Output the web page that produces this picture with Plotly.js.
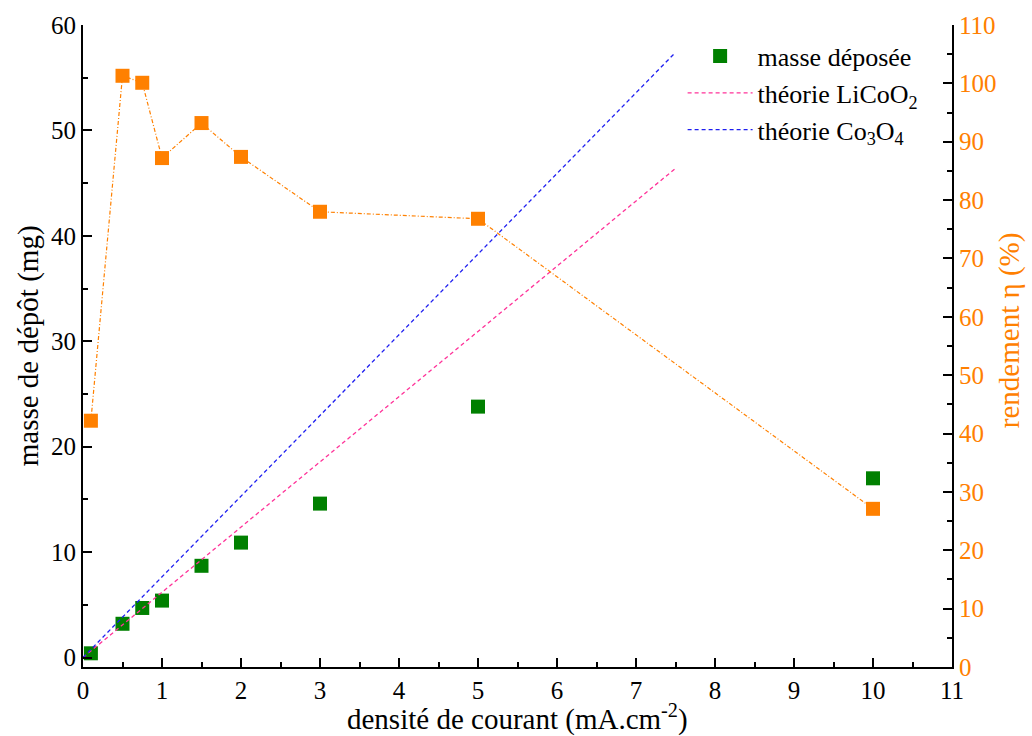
<!DOCTYPE html>
<html>
<head>
<meta charset="utf-8">
<script src="https://cdn.plot.ly/plotly-3.0.1.min.js"></script>
<style>
html,body{margin:0;padding:0;background:#fff;}
#chart{width:1032px;height:736px;}
</style>
</head>
<body>
<div id="chart"></div>
<script>
// Current density (mA.cm-2)
const currentDensity = [0.1, 0.5, 0.75, 1, 1.5, 2, 3, 5, 10];
// Deposited mass (mg)
const massDeposited = [0.4, 3.2, 4.7, 5.4, 8.7, 10.9, 14.6, 23.8, 17.0];
// Yield (%)
const yieldPct = [42.2, 101.3, 100.1, 87.2, 93.2, 87.4, 78.0, 76.8, 27.1];
// Theoretical lines
const theoryX = [0, 7.5];
const theoryLiCoO2 = [0, 46.4];
const theoryCo3O4 = [0, 57.4];
// Titles
const xTitle = "densité de courant (mA.cm<sup>-2</sup>)";
const yTitle = "masse de dépôt (mg)";
const y2Title = "rendement η (%)";

const FONT = "Liberation Serif";
const ORANGE = "#FF8000";

const traces = [
  {
    x: currentDensity, y: massDeposited, type: "scatter", mode: "markers",
    name: "masse déposée", legendgroup: "a",
    marker: {symbol: "square", size: 14, color: "#008000", line: {width: 0}},
    xaxis: "x", yaxis: "y"
  },
  {
    x: theoryX, y: theoryLiCoO2, type: "scatter", mode: "lines",
    name: "théorie LiCoO<sub>2</sub>", legendgroup: "b",
    line: {color: "#FF3399", width: 1.3, dash: "4px,3px"},
    xaxis: "x", yaxis: "y"
  },
  {
    x: theoryX, y: theoryCo3O4, type: "scatter", mode: "lines",
    name: "théorie Co<sub>3</sub>O<sub>4</sub>", legendgroup: "c",
    line: {color: "#1E1EF0", width: 1.3, dash: "4px,3px"},
    xaxis: "x", yaxis: "y"
  },
  {
    x: currentDensity, y: yieldPct, type: "scatter", mode: "lines+markers",
    name: "rendement",
    showlegend: false,
    line: {color: ORANGE, width: 1.2, dash: "4px,2px,1px,2px"},
    marker: {symbol: "square", size: 14, color: ORANGE, line: {width: 0}},
    xaxis: "x", yaxis: "y2"
  }
];

const layout = {
  width: 1032, height: 736,
  margin: {l: 83, r: 80, t: 25, b: 69},
  paper_bgcolor: "#fff", plot_bgcolor: "#fff",
  font: {family: FONT, size: 24, color: "#000"},
  showlegend: true,
  legend: {
    x: 0.69, y: 0.988, xanchor: "left", yanchor: "top",
    bgcolor: "rgba(0,0,0,0)", borderwidth: 0,
    font: {family: FONT, size: 26, color: "#000"},
    traceorder: "grouped",
    itemwidth: 65, tracegroupgap: 0
  },
  annotations: [
    {xref: "paper", yref: "paper", x: 0.4995, y: -0.079, xanchor: "center", yanchor: "middle",
     text: xTitle, showarrow: false, font: {family: FONT, size: 29, color: "#000"}},
    {xref: "paper", yref: "paper", x: -0.063, y: 0.50, xanchor: "center", yanchor: "middle",
     text: yTitle, textangle: -90, showarrow: false, font: {family: FONT, size: 29, color: "#000"}},
    {xref: "paper", yref: "paper", x: 1.067, y: 0.525, xanchor: "center", yanchor: "middle",
     text: y2Title, textangle: -90, showarrow: false, font: {family: FONT, size: 29, color: ORANGE}}
  ],
  xaxis: {
    range: [0, 11], dtick: 1, tick0: 0,
    showline: true, linecolor: "#000", linewidth: 2,
    ticks: "inside", ticklen: 9, tickwidth: 2, tickcolor: "#000",
    minor: {ticks: "inside", ticklen: 5, tickwidth: 2, tickcolor: "#000", dtick: 0.5, showgrid: false},
    showgrid: false, zeroline: false,
    tickfont: {family: FONT, size: 25, color: "#000"}
  },
  yaxis: {
    range: [-0.9, 60], dtick: 10, tick0: 0,
    showline: true, linecolor: "#000", linewidth: 2,
    ticks: "inside", ticklen: 9, tickwidth: 2, tickcolor: "#000",
    minor: {ticks: "inside", ticklen: 5, tickwidth: 2, tickcolor: "#000", dtick: 5, showgrid: false},
    showgrid: false, zeroline: false,
    tickfont: {family: FONT, size: 25, color: "#000"}
  },
  yaxis2: {
    overlaying: "y", side: "right", anchor: "x",
    range: [0, 110], dtick: 10, tick0: 0,
    showline: true, linecolor: "#000", linewidth: 2,
    ticks: "inside", ticklen: 9, tickwidth: 2, tickcolor: "#000",
    minor: {ticks: "inside", ticklen: 5, tickwidth: 2, tickcolor: "#000", dtick: 5, showgrid: false},
    showgrid: false, zeroline: false,
    tickfont: {family: FONT, size: 25, color: ORANGE}
  }
};

Plotly.newPlot("chart", traces, layout, {displayModeBar: false, staticPlot: true});
</script>
</body>
</html>
